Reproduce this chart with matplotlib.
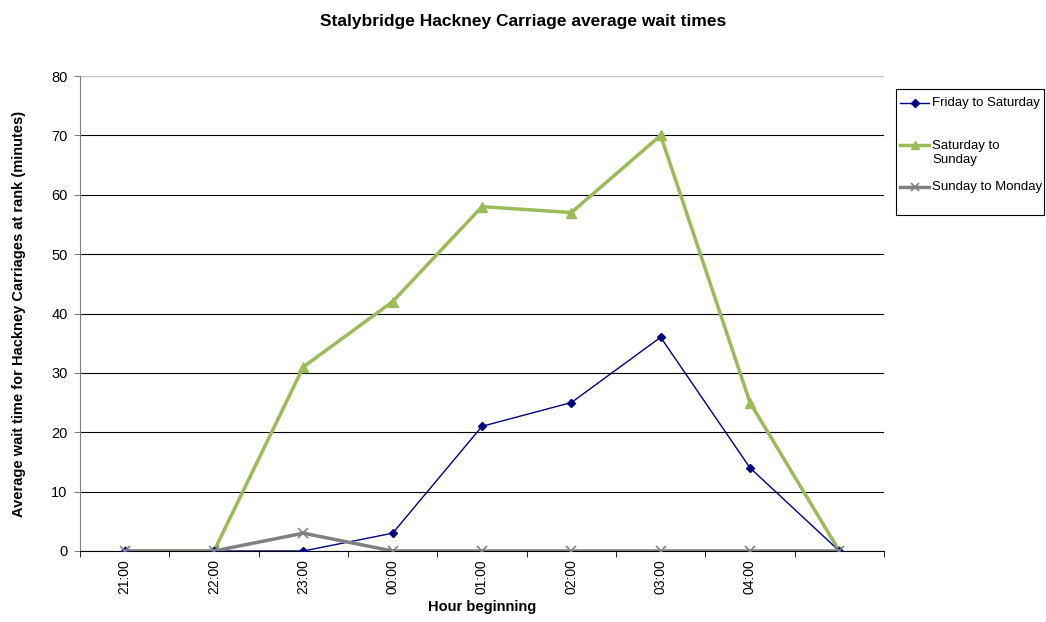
import numpy as np
import matplotlib.pyplot as plt
from matplotlib.lines import Line2D
from matplotlib.patches import Rectangle

plt.rcParams['font.family'] = ['Liberation Sans', 'DejaVu Sans']

hours = ["21:00", "22:00", "23:00", "00:00", "01:00", "02:00", "03:00", "04:00", ""]
fri_sat = [0, 0, 0, 3, 21, 25, 36, 14, 0]
sat_sun = [0, 0, 31, 42, 58, 57, 70, 25, 0]
sun_mon = [0, 0, 3, 0, 0, 0, 0, 0, 0]

W, H = 1046, 622
fig = plt.figure(figsize=(W / 100, H / 100), dpi=100)
ax = fig.add_axes([80 / W, 1 - 551 / H, 804 / W, 475 / H])

series = [
    ("Friday to Saturday", fri_sat, dict(color="#000080", lw=1.0, marker="D", ms=4)),
    ("Saturday to\nSunday", sat_sun, dict(color="#9BBB59", lw=2.5, marker="^", ms=7)),
    ("Sunday to Monday", sun_mon, dict(color="#808080", lw=2.5, marker="x", ms=7, mew=1.2)),
]
zorders = [4, 3, 5]

x = np.arange(len(hours))
for (name, vals, style), z in zip(series, zorders):
    ax.plot(x, vals, zorder=z, **style)

ax.set_xlim(-0.5, len(hours) - 0.5)
ax.set_ylim(0, 80)
ax.set_yticks(range(0, 81, 10))
ax.yaxis.grid(True, color="black", lw=0.8)
ax.set_axisbelow(True)

# category labels at centres, tick marks on the boundaries
ax.set_xticks(x)
ax.set_xticklabels(hours, rotation=90, fontsize=10)
ax.tick_params(axis="x", which="major", length=0, pad=6)
ax.set_xticks(np.arange(-0.5, len(hours)), minor=True)
ax.tick_params(axis="x", which="minor", length=4, direction="out", color="black")
ax.tick_params(axis="y", labelsize=10.5, length=4, pad=5, direction="out", color="#808080")

for side in ["top", "right"]:
    ax.spines[side].set_visible(False)
ax.spines["left"].set_color("#808080")
ax.spines["bottom"].set_color("black")
ax.axhline(80, color="#c8c8c8", lw=0.8)

ax.set_xlabel("Hour beginning", fontsize=10.5, fontweight="bold", labelpad=4)
ax.set_ylabel("Average wait time for Hackney Carriages at rank (minutes)",
              fontsize=10.5, fontweight="bold", labelpad=18)
fig.suptitle("Stalybridge Hackney Carriage average wait times",
             fontsize=12.5, fontweight="bold", x=0.5, y=0.978)

# legend box drawn by hand so the entry spacing follows the original layout
def fx(px):
    return px / W

def fy(py):
    return 1 - py / H

fig.patches.append(Rectangle((fx(896), fy(215)), fx(1044) - fx(896), fy(89) - fy(215),
                             transform=fig.transFigure, fill=False,
                             edgecolor="black", lw=0.8))
rows = [(103, 103), (145, 153), (187, 187)]
for (name, vals, style), (yh, yt) in zip(series, rows):
    st = dict(style)
    st["ms"] = min(st["ms"], 6)
    fig.add_artist(Line2D([fx(900), fx(914.5), fx(929)], [fy(yh)] * 3,
                          transform=fig.transFigure, markevery=[1], **st))
    fig.text(fx(932), fy(yt), name, fontsize=9.5, va="center", ha="left", linespacing=1.2)

fig.savefig("out.png", dpi=100)
